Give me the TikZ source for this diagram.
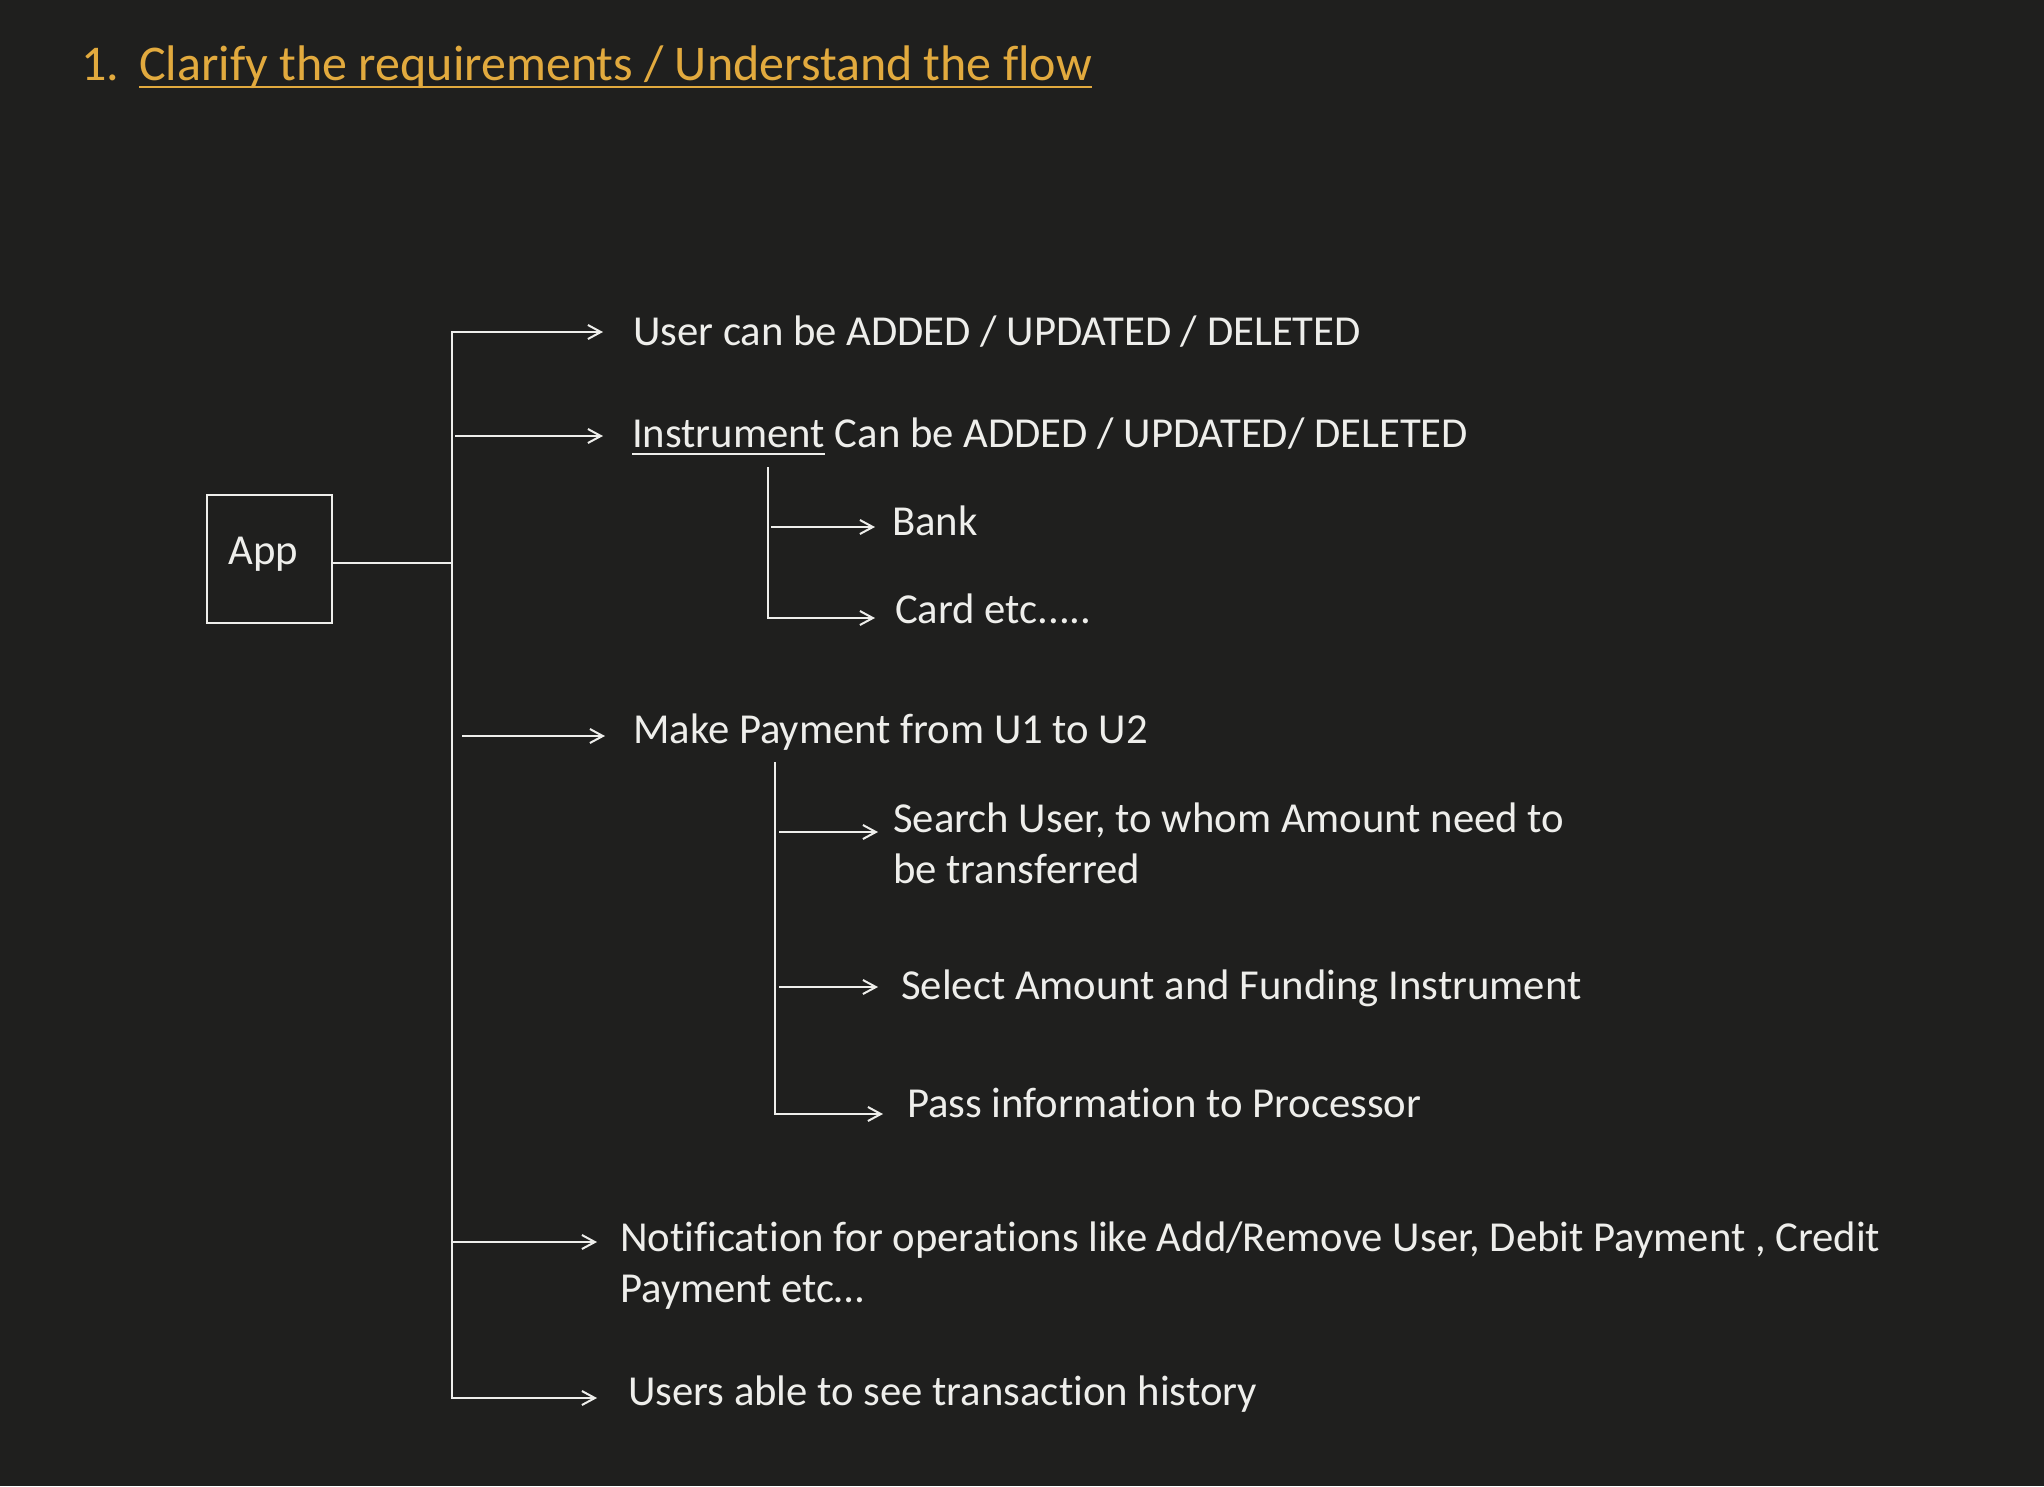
\documentclass[tikz,border=0pt]{standalone}
\usepackage{fontspec}
\setmainfont{Carlito}[Ligatures=NoCommon]
\usetikzlibrary{arrows.meta}
\definecolor{bg}{RGB}{31,31,30}
\definecolor{ink}{RGB}{238,238,235}
\definecolor{gold}{RGB}{226,170,62}

\begin{document}
\begin{tikzpicture}[x=1pt,y=-1pt,>={Straight Barb[length=13pt,width=14pt]},
  every node/.style={inner sep=0pt,text=ink,anchor=base west,font=\fontsize{42.7}{51}\selectfont},
  heading/.style={text=gold,font=\fontsize{50}{60}\selectfont},
  wire/.style={draw=ink,line width=2pt},
  branch/.style={wire,->},
  multi/.style={align=left}]
  \fill[bg] (0,0) rectangle (2044,1486);
  \useasboundingbox (0,0) rectangle (2044,1486);

  \node[heading] (num) at (81,80) {1.};
  \node[heading] (title) at (139,80) {Clarify the requirements / Understand the flow};
  \draw[gold,line width=2.5pt] ([yshift=-7pt]title.base west) -- ([yshift=-7pt]title.base east);

  \node[draw=ink,line width=2.5pt,anchor=center,minimum width=125pt,minimum height=128pt,
    text height=28pt,text depth=18pt] (app) at (269.5,559) {App\hspace*{12pt}};

  \node (user) at (633,345) {User can be ADDED / UPDATED / DELETED};
  \node (instr) at (632,447) {Instrument};
  \node (instrops) at (instr.base east) {\ Can be ADDED / UPDATED/ DELETED};
  \draw[wire] ([yshift=-7pt]instr.base west) -- ([yshift=-7pt]instr.base east);
  \node (bank) at (892,535) {Bank};
  \node (card) at (895,623) {Card etc.....};
  \node (pay) at (633,743) {Make Payment from U1 to U2};
  \node[multi] (search) at (893,883) {Search User, to whom Amount need to\\be transferred};
  \node (select) at (901,999) {Select Amount and Funding Instrument};
  \node (pass) at (907,1117) {Pass information to Processor};
  \node[multi] (notify) at (620,1302) {Notification for operations like Add/Remove User, Debit Payment , Credit\\Payment etc…};
  \node (history) at (628,1405) {Users able to see transaction history};

  \coordinate (join) at (452,563);
  \coordinate (bottom) at (452,1398);
  \coordinate (usertip) at (603,332);
  \coordinate (instrtip) at (603,436);
  \coordinate (paytip) at (605,736);
  \coordinate (notifytip) at (597,1242);
  \coordinate (historytip) at (597,1398);
  \coordinate (itop) at (768,467);
  \coordinate (banktip) at (875,527);
  \coordinate (cardtip) at (875,618);
  \coordinate (ptop) at (775,762);
  \coordinate (searchtip) at (878,832);
  \coordinate (selecttip) at (878,987);
  \coordinate (passtip) at (883,1114);

  \draw[wire] (app.east |- join) -- (join);
  \draw[branch,<->] (usertip) -| (bottom) -- (historytip);
  \draw[branch,shorten <=3pt] (join |- instrtip) -- (instrtip);
  \draw[branch,shorten <=10pt] (join |- paytip) -- (paytip);
  \draw[branch,shorten <=1pt] (join |- notifytip) -- (notifytip);

  \draw[branch] (itop) |- (cardtip);
  \draw[branch,shorten <=3pt] (itop |- banktip) -- (banktip);
  \draw[branch] (ptop) |- (passtip);
  \draw[branch,shorten <=4pt] (ptop |- searchtip) -- (searchtip);
  \draw[branch,shorten <=4pt] (ptop |- selecttip) -- (selecttip);
\end{tikzpicture}
\end{document}
